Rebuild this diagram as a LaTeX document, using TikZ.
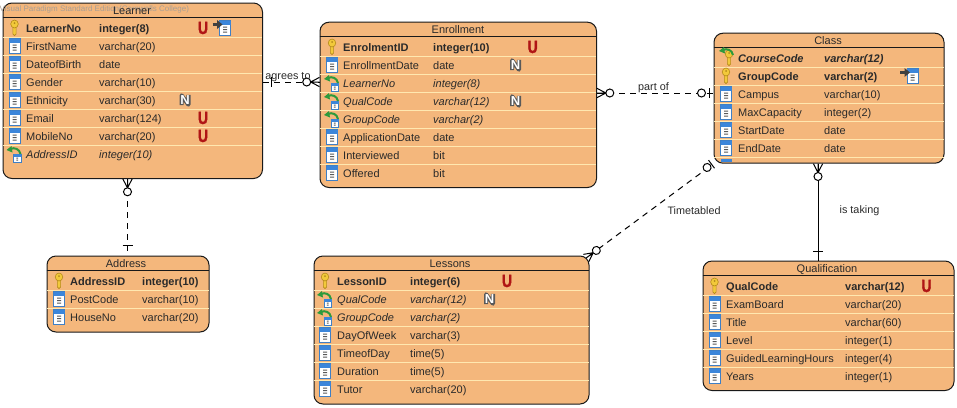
\documentclass[tikz,border=0pt]{standalone}
\usepackage{fontspec}
\usepackage{graphicx}
\setmainfont{Liberation Sans}
\newfontface\ufont[FakeBold=2.5]{Liberation Sans Bold}
\definecolor{tblfill}{HTML}{F4B77C}
\definecolor{sepline}{HTML}{FFE8B0}
\definecolor{inkc}{HTML}{2A2A2A}
\definecolor{gold}{HTML}{F2C93A}
\definecolor{goldd}{HTML}{B58A1C}
\definecolor{iconblue}{HTML}{3C86DA}
\definecolor{iconline}{HTML}{3F7FC5}
\definecolor{fkgreen}{HTML}{2E9A3C}
\definecolor{ured}{HTML}{B01515}
\definecolor{wm}{HTML}{A89E94}
\tikzset{
  x=1pt,y=-1pt,
  tbl/.style={draw=black!90,line width=1pt,fill=tblfill,rounded corners=9pt,inner sep=0pt,anchor=north west},
  hdr/.style={draw=black!90,line width=.9pt},
  sep/.style={draw=sepline,line width=1pt},
  rowtext/.style={anchor=base west,inner sep=0pt,text=inkc,font=\fontsize{11}{13}\selectfont},
  title/.style={anchor=base,inner sep=0pt,text=inkc,font=\fontsize{11}{13}\selectfont},
  lbl/.style={anchor=base,inner sep=0pt,text=inkc,font=\fontsize{10.8}{13}\selectfont},
  conn/.style={draw=black,line width=1pt},
  dashconn/.style={conn,dash pattern=on 6pt off 5pt},
  ucon/.style={anchor=center,inner sep=0pt,text=ured,font=\fontsize{17.5}{18}\ufont},
  ncon/.style={anchor=center,inner sep=0pt,text=white,font=\fontsize{13}{13}\selectfont\bfseries},
}
% icons (px, y downward)
\newcommand\keyicon[2]{\begin{scope}[shift={(#1,#2)},draw=goldd,fill=gold,line width=.6pt]
  \filldraw (-1.6,-2) -- (-1.6,6) -- (0,7.6) -- (1.6,6) -- (1.6,-2) -- cycle;
  \filldraw (0,-4) ellipse [x radius=3.8,y radius=4];
  \fill[goldd] (0,-5) circle [radius=1];
\end{scope}}
\newcommand\tabicon[2]{\begin{scope}[shift={(#1,#2)}]
  \filldraw[draw=iconline,fill=white,line width=.7pt] (-5.5,-7.5) rectangle (5.5,7.5);
  \fill[iconblue] (-5.5,-7.5) rectangle (5.5,-3.5);
  \fill[black!65] (-2,-1.5) rectangle (2,-.5) (-2,1) rectangle (2,2) (-2,3.5) rectangle (2,4.5);
\end{scope}}
\newcommand\greenarrow[2]{\begin{scope}[shift={(#1,#2)}]
  \draw[fkgreen,line width=2pt] (6,0) .. controls (5,-5) and (0,-7) .. (-4,-5);
  \fill[fkgreen] (-8,-4) -- (-3,-8) -- (-2,-1.5) -- cycle;
\end{scope}}
\newcommand\fkicon[2]{\begin{scope}[shift={(#1,#2)}]
  \filldraw[draw=iconline,fill=white,line width=.6pt] (-1,0) rectangle (6.5,8);
  \fill[iconblue] (-1,0) rectangle (6.5,2.5);
  \fill[black!65] (1.8,3.5) rectangle (3.7,4.5) (1.8,5.5) rectangle (3.7,6.5);
\end{scope}\greenarrow{#1}{#2}}
\newcommand\pkfkicon[2]{\keyicon{#1+3}{#2}\greenarrow{#1+1}{#2-3}}
\newcommand\tabarrow[2]{\tabicon{#1}{#2}\begin{scope}[shift={(#1,#2)}]
  \draw[black!75,line width=2.2pt] (-12.5,-3.5) -- (-7,-3.5);
  \fill[black!75] (-8,-8) -- (-2.5,-3.5) -- (-8,1) -- cycle;
\end{scope}}
\newcommand\ucons[2]{\node[ucon] (u#1x#2) at (#1,#2) {\scalebox{.8}[1]{U}};}
\newcommand\ncons[2]{\begin{scope}[shift={(#1,#2)}]
  \draw[black!65,line width=4.2pt,line join=round] (-3.4,5.2) -- (-3.4,-4.6) -- (3.4,4.6) -- (3.4,-5.2);
\end{scope}\node[ncon] (n#1x#2) at (#1,#2) {N};}
% row: y, icon, font style, name, type
\newcommand\tabrow[5]{%
  \csname #2icon\endcsname{\ix}{#1}%
  \node[rowtext,font=\fontsize{11}{13}\selectfont#3] (\tn#1a) at (\nx,#1+4) {#4};%
  \node[rowtext,font=\fontsize{11}{13}\selectfont#3] (\tn#1b) at (\tx,#1+4) {#5};}
% name x1 y1 x2 y2 headerline
\newcommand\tabbox[6]{%
  \def\tn{#1}%
  \node[tbl,minimum width=#4pt-#2pt,minimum height=#5pt-#3pt] (#1) at (#2,#3) {};
  \draw[hdr] (#2,#6) -- (#4,#6);}
\newcommand\seps[3]{\foreach \s in {#3} {\draw[sep] (#1,\s) -- (#2,\s);}}
% offset along line, point, angle
\newcommand\crowend[3]{\begin{scope}[shift={(#2)},rotate=#3,xshift=#1pt,line width=1pt]
  \draw (0,-4.6) -- (9,0) -- (0,4.6) (0,0) -- (9,0);
  \filldraw[fill=white] (12.8,0) circle [radius=4];
\end{scope}}
\newcommand\barend[3]{\begin{scope}[shift={(#1)},rotate=#2,line width=1pt]
  \draw (#3,-5) -- (#3,5);
\end{scope}}
% point, angle, bar distance, circle distance
\newcommand\oneend[4]{\begin{scope}[shift={(#1)},rotate=#2,line width=1pt]
  \draw (#3,-5) -- (#3,5);
  \filldraw[fill=white] (#4,0) circle [radius=4];
\end{scope}}
\begin{document}
\begin{tikzpicture}
\useasboundingbox (0,0) rectangle (957,407);
\fill[white] (0,0) rectangle (957,407);

% End of the Lessons--Class connector, beneath the Class box so its bar tucks under the corner
\coordinate (clsw) at (713.5,162.7);
\oneend{clsw}{216.6}{2.5}{8}

% Learner
\tabbox{learner}{2.5}{2.5}{262}{178}{17.5}
\seps{2.5}{262}{37.3,55.3,73.3,91.3,109.3,127.3,145.3}
\node[anchor=base west,inner sep=0pt,text=wm,font=\fontsize{8}{10}\selectfont] (watermark) at (-0.5,11) {Visual Paradigm Standard Edition(Cornwalls College)};
\node[title] (learnertitle) at (132,14) {Learner};
\def\ix{14.5}\def\nx{26}\def\tx{99}
\tabrow{28}{key}{\bfseries}{LearnerNo}{integer(8)}
\tabrow{46}{tab}{}{FirstName}{varchar(20)}
\tabrow{64}{tab}{}{DateofBirth}{date}
\tabrow{82}{tab}{}{Gender}{varchar(10)}
\tabrow{100}{tab}{}{Ethnicity}{varchar(30)}
\tabrow{118}{tab}{}{Email}{varchar(124)}
\tabrow{136}{tab}{}{MobileNo}{varchar(20)}
\tabrow{154}{fk}{\itshape}{AddressID}{integer(10)}
\ucons{203}{28}\ucons{203}{118}\ucons{203}{136}\ncons{185}{100}
\tabarrow{225}{28}

% Enrollment
\tabbox{enrollment}{319.5}{21.7}{596}{187}{36.7}
\seps{319.5}{596}{56.3,74.3,92.3,110.3,128.3,146.3,164.3}
\node[title] (enrollmenttitle) at (458,33.5) {Enrollment};
\def\ix{332}\def\nx{343}\def\tx{433}
\tabrow{47}{key}{\bfseries}{EnrolmentID}{integer(10)}
\tabrow{65}{tab}{}{EnrollmentDate}{date}
\tabrow{83}{fk}{\itshape}{LearnerNo}{integer(8)}
\tabrow{101}{fk}{\itshape}{QualCode}{varchar(12)}
\tabrow{119}{fk}{\itshape}{GroupCode}{varchar(2)}
\tabrow{137}{tab}{}{ApplicationDate}{date}
\tabrow{155}{tab}{}{Interviewed}{bit}
\tabrow{173}{tab}{}{Offered}{bit}
\ucons{532.7}{47}\ncons{515.5}{65}\ncons{515.5}{101}

% Class
\tabbox{class}{713.5}{32.7}{943.5}{162.7}{47.3}
\seps{713.5}{943.5}{67.3,85.5,103.5,121.5,139.5,157.5}
\fill[iconblue] (720.5,158.5) rectangle (732,162);
\node[title] (classtitle) at (828,44) {Class};
\def\ix{726}\def\nx{738}\def\tx{824}
\tabrow{58}{pkfk}{\bfseries\itshape}{CourseCode}{varchar(12)}
\tabrow{76}{key}{\bfseries}{GroupCode}{varchar(2)}
\tabrow{94}{tab}{}{Campus}{varchar(10)}
\tabrow{112}{tab}{}{MaxCapacity}{integer(2)}
\tabrow{130}{tab}{}{StartDate}{date}
\tabrow{148}{tab}{}{EndDate}{date}
\tabarrow{912.5}{76}

% Address
\tabbox{address}{46.5}{255.5}{208.5}{331.5}{270.7}
\seps{46.5}{208.5}{290.3,308.3}
\node[title] (addresstitle) at (126,267.5) {Address};
\def\ix{59}\def\nx{70}\def\tx{142}
\tabrow{281}{key}{\bfseries}{AddressID}{integer(10)}
\tabrow{299}{tab}{}{PostCode}{varchar(10)}
\tabrow{317}{tab}{}{HouseNo}{varchar(20)}

% Lessons
\tabbox{lessons}{313.5}{255.5}{588.5}{403.5}{270.7}
\seps{313.5}{588.5}{290.5,308.5,326.5,344.5,362.5,380.5}
\node[title] (lessonstitle) at (450,267.5) {Lessons};
\def\ix{325}\def\nx{337}\def\tx{410}
\tabrow{281}{key}{\bfseries}{LessonID}{integer(6)}
\tabrow{299}{fk}{\itshape}{QualCode}{varchar(12)}
\tabrow{317}{fk}{\itshape}{GroupCode}{varchar(2)}
\tabrow{335}{tab}{}{DayOfWeek}{varchar(3)}
\tabrow{353}{tab}{}{TimeofDay}{time(5)}
\tabrow{371}{tab}{}{Duration}{time(5)}
\tabrow{389}{tab}{}{Tutor}{varchar(20)}
\ucons{507}{281}\ncons{489.5}{299}

% Qualification
\tabbox{qualification}{702.5}{260.5}{953.5}{390}{275.3}
\seps{702.5}{953.5}{295.3,313.3,331.3,349.3,367.3}
\node[title] (qualificationtitle) at (827,272) {Qualification};
\def\ix{714.5}\def\nx{726}\def\tx{845}
\tabrow{286}{key}{\bfseries}{QualCode}{varchar(12)}
\tabrow{304}{tab}{}{ExamBoard}{varchar(20)}
\tabrow{322}{tab}{}{Title}{varchar(60)}
\tabrow{340}{tab}{}{Level}{integer(1)}
\tabrow{358}{tab}{}{GuidedLearningHours}{integer(4)}
\tabrow{376}{tab}{}{Years}{integer(1)}
\ucons{926.5}{286}

% Connectors
\draw[dashconn] (learner.east |- 0,82) -- (enrollment.west |- 0,82);
\barend{learner.east |- 0,82}{0}{8}
\crowend{0}{enrollment.west |- 0,82}{180}
\draw[dashconn] (enrollment.east |- 0,93) -- (class.west |- 0,93);
\crowend{0}{enrollment.east |- 0,93}{0}
\oneend{class.west |- 0,93}{180}{4}{12}
\draw[dashconn,shorten >=12pt] (lessons.north east) -- (class.south west);
\crowend{-4.3}{lessons.north east}{36.6}
\draw[conn] (class.south -| 818,0) -- (qualification.north -| 818,0);
\crowend{0}{class.south -| 818,0}{270}
\barend{qualification.north -| 818,0}{90}{9}
\draw[dashconn] (learner.south -| 127.5,0) -- (address.north -| 127.5,0);
\crowend{0}{learner.south -| 127.5,0}{270}
\barend{address.north -| 127.5,0}{90}{10}

% Labels
\node[lbl] (agrees) at (288,79) {agrees to};
\node[lbl] (partof) at (653.5,90) {part of};
\node[lbl] (timetabled) at (694,214) {Timetabled};
\node[lbl] (istaking) at (859.5,213) {is taking};
\end{tikzpicture}
\end{document}
